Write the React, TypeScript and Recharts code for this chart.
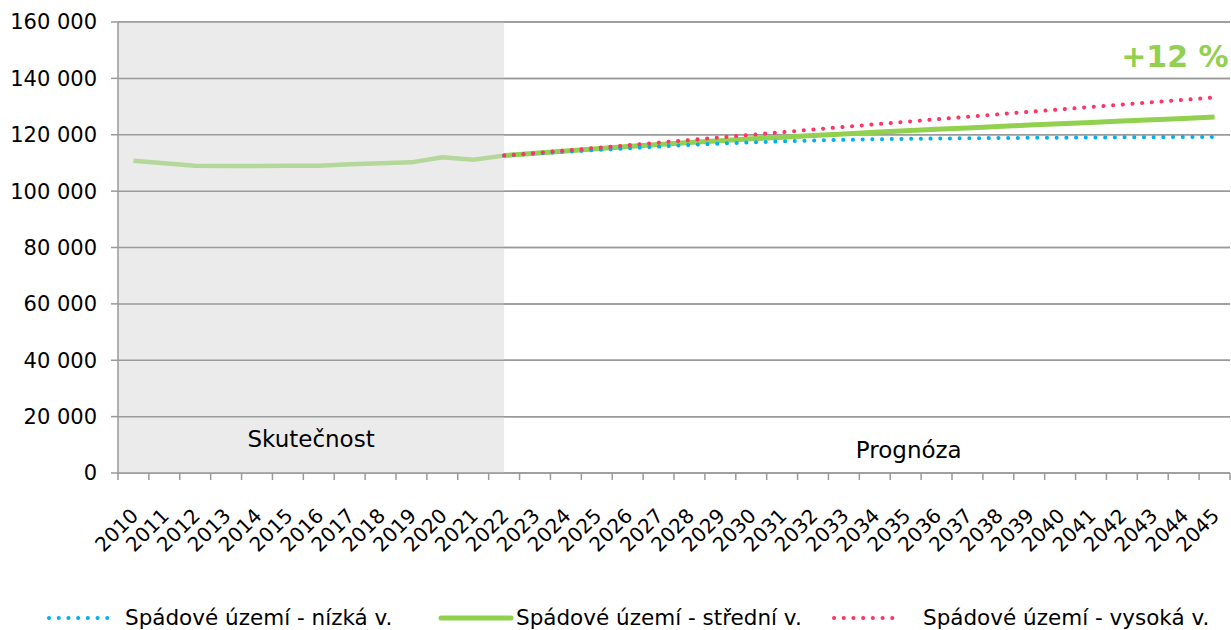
import React from 'react';
import {
  LineChart,
  Line,
  XAxis,
  YAxis,
  CartesianGrid,
  ReferenceArea,
  ReferenceLine,
  ReferenceDot,
  Legend,
} from 'recharts';

const years = [
  2010, 2011, 2012, 2013, 2014, 2015, 2016, 2017, 2018, 2019, 2020, 2021, 2022,
  2023, 2024, 2025, 2026, 2027, 2028, 2029, 2030, 2031, 2032, 2033, 2034, 2035,
  2036, 2037, 2038, 2039, 2040, 2041, 2042, 2043, 2044, 2045,
];

// skutečnost 2010–2022
const actual = [
  110800, 109900, 109000, 108900, 108900, 109000, 109000, 109500, 109900, 110200,
  112000, 111100, 112600,
];

// prognóza 2022–2045
const forecastYears = years.slice(12);
const lowVariant = [
  112600, 113300, 113950, 114600, 115200, 115800, 116400, 116900, 117300, 117650,
  117950, 118200, 118400, 118550, 118650, 118750, 118830, 118900, 118960, 119020,
  119080, 119140, 119200, 119250,
];
const midVariant = [
  112600, 113400, 114200, 115000, 115800, 116550, 117250, 117900, 118550, 119150,
  119750, 120300, 120850, 121400, 121920, 122430, 122930, 123420, 123900, 124380,
  124850, 125320, 125800, 126300,
];
const highVariant = [
  112600, 113500, 114420, 115350, 116270, 117200, 118130, 119060, 119990, 120920,
  121850, 122780, 123700, 124600, 125500, 126380, 127260, 128130, 129000, 129860,
  130710, 131560, 132400, 133250,
];

const yTicks = [0, 20000, 40000, 60000, 80000, 100000, 120000, 140000, 160000];

const data = years.map((year, i) => {
  const j = forecastYears.indexOf(year);
  return {
    year,
    actual: i < actual.length ? actual[i] : undefined,
    low: j >= 0 ? lowVariant[j] : undefined,
    mid: j >= 0 ? midVariant[j] : undefined,
    high: j >= 0 ? highVariant[j] : undefined,
  };
});

const W = 1231;
const H = 630;
const LEFT = 118;
const RIGHT_MARGIN = 1;
const HALF_BAND = (W - LEFT - RIGHT_MARGIN) / years.length / 2;
const FONT = '"DejaVu Sans", Verdana, sans-serif';
const GRID = '#9a9a9a';

const fmt = (v: number) => (v === 0 ? '0' : v.toLocaleString('en-US').replace(/,/g, ' '));

const YearTick = (props: any) => {
  const { x, y, payload, index } = props;
  const last = index === years.length - 1;
  const tx = x + 6;
  const ty = y + 44;
  return (
    <g>
      <line x1={x - HALF_BAND} y1={y} x2={x - HALF_BAND} y2={y + 7} stroke={GRID} strokeWidth={1.5} />
      {last && <line x1={x + HALF_BAND} y1={y} x2={x + HALF_BAND} y2={y + 7} stroke={GRID} strokeWidth={1.5} />}
      <text
        x={tx}
        y={ty}
        transform={`rotate(-45, ${tx}, ${ty})`}
        textAnchor="end"
        fontSize={20}
        fontFamily={FONT}
        fill="#000"
      >
        {payload.value}
      </text>
    </g>
  );
};

const Sample = ({ color, dotted, width }: { color: string; dotted: boolean; width: number }) => (
  <svg width={width} height={10} style={{ display: 'block' }}>
    <line
      x1={3}
      y1={5}
      x2={width - 3}
      y2={5}
      stroke={color}
      strokeWidth={dotted ? 4 : 5}
      strokeLinecap="round"
      strokeDasharray={dotted ? '0.1 9.6' : undefined}
    />
  </svg>
);

const legendItems = [
  { label: 'Spádové území - nízká v.', color: '#00b0f0', dotted: true, left: 46, sample: 68, gap: 11 },
  { label: 'Spádové území - střední v.', color: '#92d050', dotted: false, left: 438, sample: 76, gap: 2 },
  { label: 'Spádové území - vysoká v.', color: '#ff3366', dotted: true, left: 831, sample: 68, gap: 24 },
];

const renderLegend = () => (
  <div style={{ position: 'relative', width: W, height: 72, fontFamily: FONT, fontSize: 21.5, color: '#000' }}>
    {legendItems.map((it) => (
      <div
        key={it.label}
        style={{
          position: 'absolute',
          left: it.left,
          top: 48,
          height: 24,
          lineHeight: '24px',
          display: 'flex',
          alignItems: 'center',
          whiteSpace: 'nowrap',
        }}
      >
        <Sample color={it.color} dotted={it.dotted} width={it.sample} />
        <span style={{ marginLeft: it.gap }}>{it.label}</span>
      </div>
    ))}
  </div>
);

const PlusLabel = (props: any) => {
  const { viewBox } = props;
  return (
    <text
      x={viewBox.x + 14}
      y={viewBox.y + 11}
      textAnchor="end"
      fontSize={30}
      fontWeight="bold"
      fontFamily={FONT}
      fill="#92d050"
    >
      +12 %
    </text>
  );
};

export default function App() {
  return (
    <div style={{ position: 'absolute', left: 0, top: 0, width: W, height: H, background: '#fff' }}>
      <LineChart width={W} height={H} data={data} margin={{ top: 22, right: RIGHT_MARGIN, left: 0, bottom: 0 }}>
        <CartesianGrid vertical={false} stroke={GRID} strokeWidth={1.5} />
        <ReferenceArea
          x1={2009.5}
          x2={2022}
          y1={0}
          y2={160000}
          fill="#ebebeb"
          fillOpacity={1}
          stroke="none"
          label={{ value: 'Skutečnost', position: 'insideBottom', offset: 26, fontSize: 23, fontFamily: FONT, fill: '#000' }}
        />
        {yTicks.slice(1).map((t) => (
          <ReferenceLine key={t} y={t} stroke={GRID} strokeWidth={1.5} />
        ))}
        <XAxis
          dataKey="year"
          type="number"
          domain={[2009.5, 2045.5]}
          ticks={years}
          interval={0}
          tickLine={false}
          tickSize={0}
          tickMargin={0}
          axisLine={{ stroke: GRID, strokeWidth: 1.5 }}
          tick={<YearTick />}
          height={85}
          allowDataOverflow
        />
        <YAxis
          width={LEFT}
          domain={[0, 160000]}
          ticks={yTicks}
          tickFormatter={fmt}
          tickSize={7}
          tickMargin={14}
          axisLine={{ stroke: GRID, strokeWidth: 1.5 }}
          tickLine={{ stroke: GRID, strokeWidth: 1.5 }}
          tick={{ fontSize: 21, fontFamily: FONT, fill: '#000' }}
        />
        <Line dataKey="actual" stroke="#b3d89a" strokeWidth={4.5} dot={false} isAnimationActive={false} legendType="none" />
        <Line dataKey="mid" stroke="#92d050" strokeWidth={5} dot={false} isAnimationActive={false} />
        <Line
          dataKey="low"
          stroke="#00b0f0"
          strokeWidth={4}
          strokeDasharray="0.1 9.6"
          strokeLinecap="round"
          dot={false}
          isAnimationActive={false}
        />
        <Line
          dataKey="high"
          stroke="#ff3366"
          strokeWidth={4}
          strokeDasharray="0.1 9.6"
          strokeLinecap="round"
          dot={false}
          isAnimationActive={false}
        />
        <ReferenceDot
          x={2035.1}
          y={8200}
          r={0}
          fill="none"
          stroke="none"
          label={{ value: 'Prognóza', position: 'center', fontSize: 23, fontFamily: FONT, fill: '#000' }}
        />
        <ReferenceDot x={2045} y={148000} r={0} fill="none" stroke="none" label={<PlusLabel />} />
        <Legend verticalAlign="bottom" content={renderLegend} wrapperStyle={{ left: 0, width: W }} />
      </LineChart>
    </div>
  );
}
